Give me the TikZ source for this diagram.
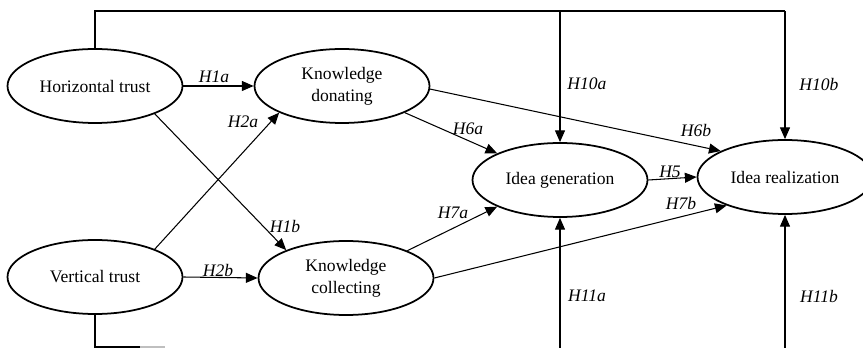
\documentclass[tikz,border=0pt]{standalone}
\usepackage{fontspec}
\setmainfont{Liberation Serif}
\usetikzlibrary{arrows.meta,shapes.geometric}

\begin{document}
\begin{tikzpicture}[x=0.03cm, y=-0.03cm,
    construct/.style={ellipse, draw, line width=1.5pt, minimum width=5.25cm,
        minimum height=2.22cm, inner sep=0pt, align=center,
        font=\fontsize{15}{18.8}\selectfont},
    hyp/.style={line width=0.9pt, -{Triangle[length=10pt, width=8.5pt]}},
    hypline/.style={line width=0.9pt},
    hyplabel/.style={inner sep=0pt, font=\fontsize{15}{18}\selectfont\itshape}]
    \clip (0,0) rectangle (863,348);
    \useasboundingbox (0,0) rectangle (863,348);

    % Konstrukte
    \node[construct] (ht) at (95,86)  {Horizontal trust};
    \node[construct] (kd) at (342,86) {Knowledge\\donating};
    \node[construct] (vt) at (95,277) {Vertical trust};
    \node[construct] (kc) at (346,278) {Knowledge\\collecting};
    \node[construct] (ig) at (560,180) {Idea generation};
    \node[construct] (ir) at (785,177) {Idea realization};

    % Hypothesen-Pfade zwischen den Konstrukten
    \foreach \from/\to in {ht.east/kd.west, vt.east/kc.west, vt.25/kd.203,
        ht.335/kc.155, kd.337/ig.157, kd.358/ir.158, kc.24/ig.203,
        kc.east/ir.206, ig.east/ir.west} {
        \draw[hyp] (\from) -- (\to);
    }

    % Pfade oben und unten
    \coordinate (top-ig) at (ig.north |- 0,11);
    \coordinate (top-ir) at (ir.north |- 0,11);
    \coordinate (bot-ig) at (ig.south |- 0,348);
    \coordinate (bot-ir) at (ir.south |- 0,348);
    \coordinate (bot-vt) at (140,347);
    \coordinate (bot-end) at (165,347);
    \draw[hypline] (ht.north) |- (top-ir);
    \draw[hyp] (top-ig) -- (ig.north);
    \draw[hyp] (top-ir) -- (ir.north);
    \draw[hyp] (bot-ig) -- (ig.south);
    \draw[hyp] (bot-ir) -- (ir.south);
    \draw[hypline] (vt.south) |- (bot-vt);
    \draw[hypline, gray!50] (bot-vt) -- (bot-end);

    % Beschriftungen
    \foreach \txt/\x/\y in {H1a/214/77, H2a/243/122, H1b/285/226, H2b/218/270,
        H6a/468/129, H6b/696/130, H10a/587/84, H10b/819/84, H5/670/172,
        H7a/453/213, H7b/681/203, H11a/587/296, H11b/819/296} {
        \node[hyplabel] (lab-\txt) at (\x,\y) {\txt};
    }
\end{tikzpicture}
\end{document}
